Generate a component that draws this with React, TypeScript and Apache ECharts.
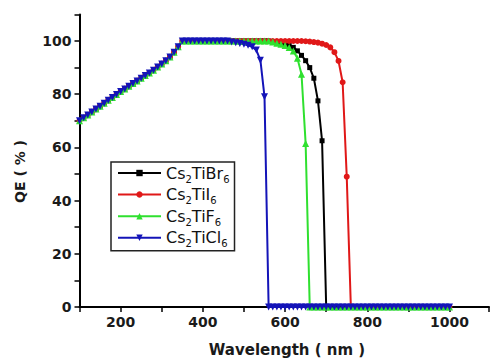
import React, { useEffect, useRef } from "react";
import * as echarts from "echarts";

const wavelengths = [
  100, 110, 120, 130, 140, 150, 160, 170, 180, 190,
  200, 210, 220, 230, 240, 250, 260, 270, 280, 290,
  300, 310, 320, 330, 340, 350, 360, 370, 380, 390,
  400, 410, 420, 430, 440, 450, 460, 470, 480, 490,
  500, 510, 520, 530, 540, 550, 560, 570, 580, 590,
  600, 610, 620, 630, 640, 650, 660, 670, 680, 690,
  700, 710, 720, 730, 740, 750, 760, 770, 780, 790,
  800, 810, 820, 830, 840, 850, 860, 870, 880, 890,
  900, 910, 920, 930, 940, 950, 960, 970, 980, 990,
  1000,
];

// QE values (%), one per wavelength above
const qeTiBr6 = [
  70, 71.1, 72.2, 73.3, 74.4, 75.5, 76.6, 77.7, 78.8, 79.9,
  81, 82, 83, 84, 85, 86, 87, 88, 89, 90.2,
  91.4, 92.6, 94, 95.8, 97.8, 100, 100, 100, 100, 100,
  100, 100, 100, 100, 100, 100, 100, 100, 100, 100,
  100, 100, 100, 100, 100, 100, 100, 99.7, 99.5, 99.2,
  98.8, 98.3, 97.6, 96.3, 94.6, 92.6, 90, 86, 77.5, 62.5,
  0, 0, 0, 0, 0, 0, 0, 0, 0, 0,
  0, 0, 0, 0, 0, 0, 0, 0, 0, 0,
  0, 0, 0, 0, 0, 0, 0, 0, 0, 0,
  0,
];

const qeTiI6 = [
  70, 71.1, 72.2, 73.3, 74.4, 75.5, 76.6, 77.7, 78.8, 79.9,
  81, 82, 83, 84, 85, 86, 87, 88, 89, 90.2,
  91.4, 92.6, 94, 95.8, 97.8, 100, 100, 100, 100, 100,
  100, 100, 100, 100, 100, 100, 100, 100, 100, 100,
  100, 100, 100, 100, 100, 100, 100, 100, 100, 100,
  100, 100, 100, 100, 100, 99.9, 99.8, 99.6, 99.4, 99,
  98.5, 97.6, 95.8, 92.5, 84.5, 49, 0, 0, 0, 0,
  0, 0, 0, 0, 0, 0, 0, 0, 0, 0,
  0, 0, 0, 0, 0, 0, 0, 0, 0, 0,
  0,
];

const qeTiF6 = [
  70, 71.1, 72.2, 73.3, 74.4, 75.5, 76.6, 77.7, 78.8, 79.9,
  81, 82, 83, 84, 85, 86, 87, 88, 89, 90.2,
  91.4, 92.6, 94, 95.8, 97.8, 100, 100, 100, 100, 100,
  100, 100, 100, 100, 100, 100, 100, 100, 100, 100,
  100, 100, 100, 100, 100, 100, 100, 99.6, 99.2, 98.8,
  98.3, 97.6, 96.2, 93.5, 87.5, 61.5, 0, 0, 0, 0,
  0, 0, 0, 0, 0, 0, 0, 0, 0, 0,
  0, 0, 0, 0, 0, 0, 0, 0, 0, 0,
  0, 0, 0, 0, 0, 0, 0, 0, 0, 0,
  0,
];

const qeTiCl6 = [
  70, 71.1, 72.2, 73.3, 74.4, 75.5, 76.6, 77.7, 78.8, 79.9,
  81, 82, 83, 84, 85, 86, 87, 88, 89, 90.2,
  91.4, 92.6, 94, 95.8, 97.8, 100, 100, 100, 100, 100,
  100, 100, 100, 100, 100, 100, 100, 99.6, 99.3, 99.1,
  98.8, 98.4, 97.8, 96.6, 92.8, 79, 0, 0, 0, 0,
  0, 0, 0, 0, 0, 0, 0, 0, 0, 0,
  0, 0, 0, 0, 0, 0, 0, 0, 0, 0,
  0, 0, 0, 0, 0, 0, 0, 0, 0, 0,
  0, 0, 0, 0, 0, 0, 0, 0, 0, 0,
  0,
];

const seriesNames = ["Cs2TiBr6", "Cs2TiI6", "Cs2TiF6", "Cs2TiCl6"];
const seriesColors = ["#000000", "#e01818", "#2fe02f", "#1414b8"];
const seriesSymbols = ["rect", "circle", "triangle", "triangle"];
const seriesSymbolSizes = [5, 6, 7, 7];
const seriesSymbolRotate = [0, 0, 0, 180];
const seriesValues = [qeTiBr6, qeTiI6, qeTiF6, qeTiCl6];

const xLabels = [200, 400, 600, 800, 1000];
const yLabels = [0, 20, 40, 60, 80, 100];

const FONT = "DejaVu Sans";

export default function App() {
  const ref = useRef<HTMLDivElement>(null);

  useEffect(() => {
    if (!ref.current) return;
    const chart = echarts.init(ref.current, null, { renderer: "svg" });

    const series = seriesNames.map((name, k) => ({
      name,
      type: "line",
      data: wavelengths.map((w, i) => [w, seriesValues[k][i]]),
      symbol: seriesSymbols[k],
      symbolSize: seriesSymbolSizes[k],
      symbolRotate: seriesSymbolRotate[k],
      showSymbol: true,
      clip: false,
      lineStyle: { color: seriesColors[k], width: 2 },
      itemStyle: { color: seriesColors[k] },
      emphasis: { disabled: true },
    }));

    chart.setOption({
      animation: false,
      backgroundColor: "#ffffff",
      grid: { left: 79.5, top: 14.4, right: 0, height: 292.6 },
      xAxis: {
        type: "value",
        min: 100,
        max: 1096,
        interval: 100,
        axisLine: { show: true, lineStyle: { color: "#000", width: 2 } },
        axisTick: { show: true, length: 5, lineStyle: { color: "#000", width: 1.5 } },
        splitLine: { show: false },
        axisLabel: {
          margin: 8,
          fontFamily: FONT,
          fontWeight: "bold",
          fontSize: 14,
          color: "#1a1a1a",
          formatter: (v: number) => (xLabels.includes(v) ? String(v) : ""),
        },
      },
      yAxis: {
        type: "value",
        min: 0,
        max: 110,
        interval: 10,
        axisLine: { show: true, lineStyle: { color: "#000", width: 2 } },
        axisTick: { show: true, length: 5, lineStyle: { color: "#000", width: 1.5 } },
        splitLine: { show: false },
        axisLabel: {
          margin: 8,
          fontFamily: FONT,
          fontWeight: "bold",
          fontSize: 14,
          color: "#1a1a1a",
          formatter: (v: number) => (yLabels.includes(v) ? String(v) : ""),
        },
      },
      legend: {
        data: seriesNames,
        orient: "vertical",
        left: 111,
        top: 162,
        padding: [0, 5, 2, 6],
        itemGap: -0.4,
        itemWidth: 43,
        itemHeight: 8,
        borderColor: "#222",
        borderWidth: 1.5,
        formatter: (name: string) =>
          name.replace(/([A-Za-z]+)|(\d)/g, (_m: string, word: string, digit: string) =>
            word ? `{m|${word}}` : `{s|${digit}}`
          ),
        textStyle: {
          fontFamily: FONT,
          fontSize: 16,
          color: "#111",
          rich: {
            m: { fontFamily: FONT, fontSize: 16, color: "#111", lineHeight: 16, verticalAlign: "middle" },
            s: {
              fontFamily: FONT,
              fontSize: 10,
              color: "#111",
              lineHeight: 10,
              padding: [12, 0, 0, 0],
              verticalAlign: "middle",
            },
          },
        },
      },
      graphic: [
        {
          type: "text",
          x: 20,
          y: 171.5,
          rotation: Math.PI / 2,
          style: {
            text: "QE ( % )",
            font: `bold 14px "${FONT}"`,
            textAlign: "center",
            textVerticalAlign: "middle",
            fill: "#1a1a1a",
          },
        },
        {
          type: "text",
          x: 287,
          y: 350,
          style: {
            text: "Wavelength ( nm )",
            font: `bold 15px "${FONT}"`,
            textAlign: "center",
            textVerticalAlign: "middle",
            fill: "#1a1a1a",
          },
        },
      ],
      series,
    });

    return () => chart.dispose();
  }, []);

  return (
    <div
      ref={ref}
      style={{ position: "fixed", left: 0, top: 0, width: 492, height: 358 }}
    />
  );
}
